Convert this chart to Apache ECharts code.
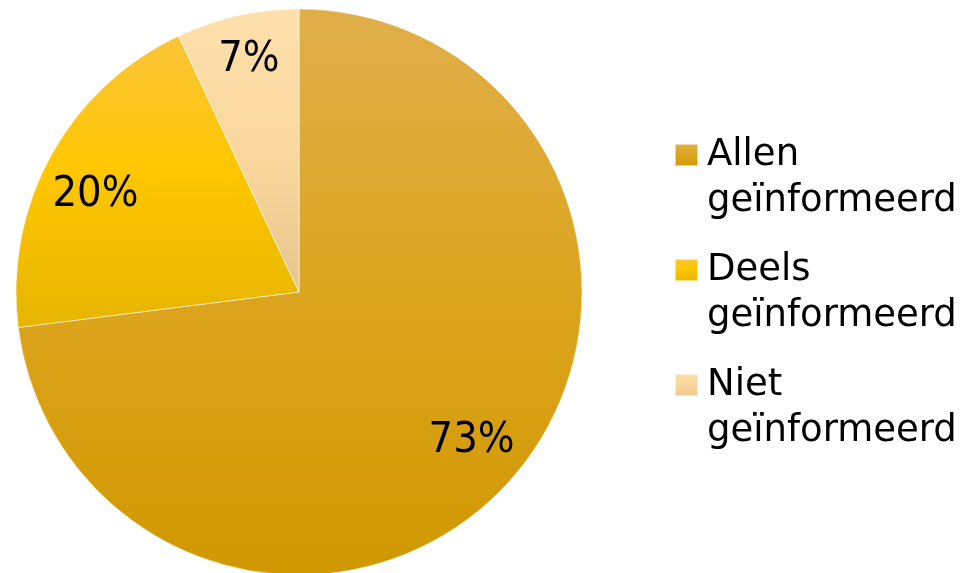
<!DOCTYPE html>
<html>
<head>
<meta charset="utf-8">
<script src="https://cdn.jsdelivr.net/npm/echarts@6/dist/echarts.min.js"></script>
<style>
  html, body { margin: 0; padding: 0; background: #ffffff; }
  #chart { width: 972px; height: 573px; }
</style>
</head>
<body>
<div id="chart"></div>
<script>
// Share of respondents by how well they were informed (percent)
const categories = ['Allen geïnformeerd', 'Deels geïnformeerd', 'Niet geïnformeerd'];
const values = [73, 20, 7];

// Per-slice vertical gradients (top -> bottom)
const sliceGradients = [
  [[0, '#E0AE4A'], [0.5, '#DCA51E'], [1, '#D09800']],
  [[0, '#FBC43A'], [0.45, '#FFC700'], [1, '#E6B500']],
  [[0, '#FEE0AC'], [0.55, '#F9D69C'], [1, '#E8C58B']]
];

// Small nudges for the percentage labels
const labelNudges = [[0, -3], [-2, 14], [0, -8]];

function grad(stops) {
  return new echarts.graphic.LinearGradient(0, 0, 0, 1,
    stops.map(s => ({ offset: s[0], color: s[1] })));
}

const pieData = categories.map((name, i) => ({
  name: name,
  value: values[i],
  itemStyle: { color: grad(sliceGradients[i]) }
}));

const labelData = categories.map((name, i) => ({
  name: name,
  value: values[i],
  label: { offset: labelNudges[i] }
}));

const chart = echarts.init(document.getElementById('chart'), null, { renderer: 'canvas' });

chart.setOption({
  backgroundColor: '#ffffff',
  animation: false,
  legend: {
    orient: 'vertical',
    left: 674,
    top: 86,
    padding: 0,
    itemWidth: 23,
    itemHeight: 22,
    itemGap: -23,
    icon: 'rect',
    selectedMode: false,
    data: categories,
    // leading blank line keeps the first text line level with the swatch
    formatter: name => '\n' + name.replace(' ', '\n'),
    textStyle: {
      fontFamily: 'DejaVu Sans',
      fontSize: 37,
      lineHeight: 46,
      color: '#000000',
      padding: [0, 0, 0, 4]
    }
  },
  series: [
    {
      name: 'Informatie',
      type: 'pie',
      center: [299, 292],
      radius: [0, 283],
      startAngle: 90,
      clockwise: true,
      silent: true,
      label: { show: false },
      labelLine: { show: false },
      itemStyle: { borderColor: 'rgba(255,255,255,0.55)', borderWidth: 1 },
      data: pieData
    },
    {
      // transparent ring used only to place the percentage labels
      name: 'Labels',
      type: 'pie',
      center: [299, 292],
      radius: [170, 284],
      startAngle: 90,
      clockwise: true,
      silent: true,
      itemStyle: { color: 'rgba(0,0,0,0)' },
      labelLine: { show: false },
      label: {
        show: true,
        position: 'inside',
        formatter: '{d}%',
        fontFamily: '"Liberation Sans Narrow", "DejaVu Sans Condensed", sans-serif',
        fontSize: 43,
        color: '#000000'
      },
      data: labelData
    }
  ]
});
</script>
</body>
</html>
